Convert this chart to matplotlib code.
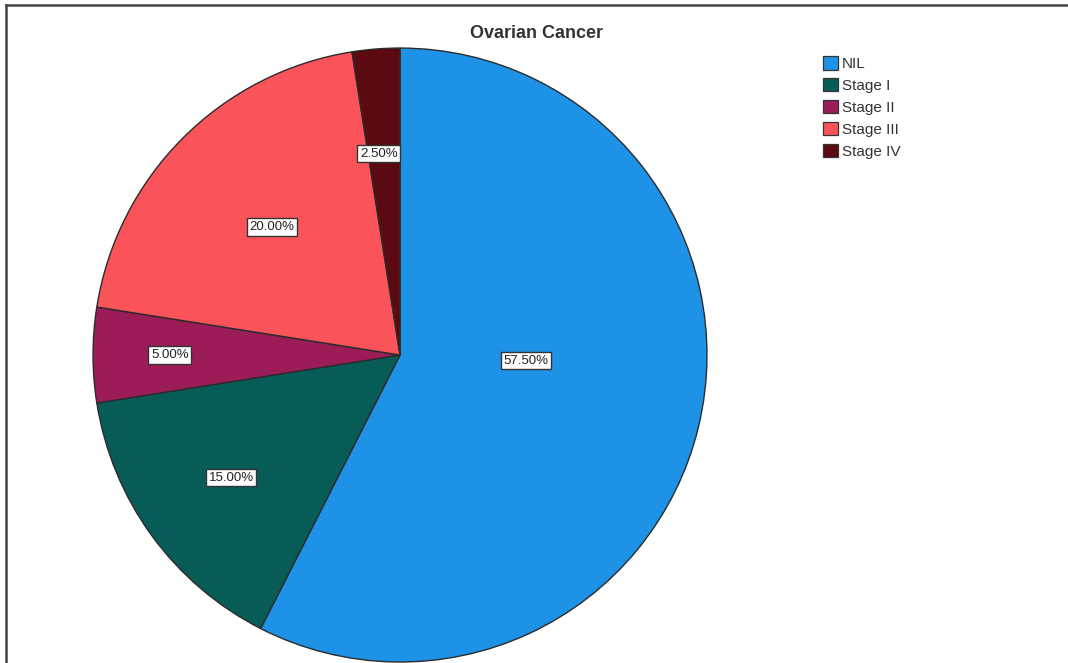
import numpy as np
import matplotlib.pyplot as plt
from matplotlib.lines import Line2D
from matplotlib.patches import Patch

plt.rcParams['font.family'] = ['Liberation Sans', 'DejaVu Sans']

stages = ['NIL', 'Stage I', 'Stage II', 'Stage III', 'Stage IV']
percent = [57.5, 15.0, 5.0, 20.0, 2.5]
colors = ['#1e92e7', '#085c58', '#9c1c58', '#fa545a', '#5a0a10']

# where each percentage box sits (fraction of radius, extra angle in degrees)
label_r = [0.41, 0.68, 0.75, 0.59, 0.66]
label_shift = [11.0, 0.0, 0.0, 0.0, 1.5]


def main():
    fig = plt.figure(figsize=(10.68, 6.63), dpi=100)
    ax = fig.add_axes([0.0871, 0.0015, 0.5749, 0.926])

    wedges, _ = ax.pie(percent, colors=colors, startangle=90, counterclock=False,
                       radius=1.0,
                       wedgeprops=dict(edgecolor='#2b2b2b', linewidth=1.0))
    ax.set_xlim(-1, 1)
    ax.set_ylim(-1, 1)
    ax.set_aspect('equal')
    ax.axis('off')

    for w, p, r, sh in zip(wedges, percent, label_r, label_shift):
        mid = np.deg2rad((w.theta1 + w.theta2) / 2.0 + sh)
        ax.text(r * np.cos(mid), r * np.sin(mid), '%.2f%%' % p,
                ha='center', va='center', fontsize=9.5, color='#222222',
                bbox=dict(boxstyle='square,pad=0.2', facecolor='white',
                          edgecolor='#333333', linewidth=1.0))

    fig.text(0.502, 0.949, 'Ovarian Cancer', ha='center', va='center',
             fontsize=13, fontweight='bold', color='#333333')

    handles = [Patch(facecolor=c, edgecolor='#333333', linewidth=0.9) for c in colors]
    fig.legend(handles, stages, loc='upper left', bbox_to_anchor=(0.765, 0.925),
               frameon=False, fontsize=11, handlelength=1.0, handleheight=1.0,
               handletextpad=0.25, labelspacing=0.45, borderaxespad=0.0,
               labelcolor='#333333')

    # outer frame, top and left edges
    fig.add_artist(Line2D([0.0056, 1.0], [0.9925, 0.9925], color='#444444', lw=1.8))
    fig.add_artist(Line2D([0.0056, 0.0056], [0.0, 0.9925], color='#444444', lw=1.8))

    fig.savefig('out.png', dpi=100, facecolor='white')
    plt.close(fig)


if __name__ == "__main__":
    main()
